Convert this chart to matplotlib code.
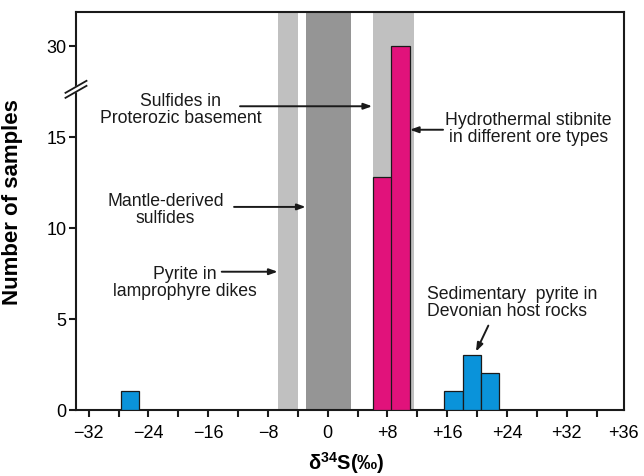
import numpy as np
import matplotlib
matplotlib.use('Agg')
import matplotlib.pyplot as plt

plt.rcParams['font.family'] = ['Liberation Sans', 'DejaVu Sans']
plt.rcParams['mathtext.fontset'] = 'custom'
plt.rcParams['mathtext.rm'] = 'Liberation Sans'
plt.rcParams['mathtext.bf'] = 'Liberation Sans:bold'

# histogram bins (left edge, count, group)
bin_left = [-27.7, 6.1, 8.5, 15.6, 18.1, 20.5]
bin_width = 2.45
counts = [1, 12.8, 30, 1, 3, 2]
bin_color = ['#0a93da', '#e1127b', '#e1127b', '#0a93da', '#0a93da', '#0a93da']

# reference ranges (shaded bands)
band_lo = [-6.65, -2.9, 6.1]
band_hi = [-3.95, 3.15, 11.5]
band_color = ['#c0c0c0', '#959595', '#c0c0c0']

# broken y axis: values between brk and brk+gap are cut out
brk = 17.6
gap = 10.0

def fwd(y):
    y = np.asarray(y, dtype=float)
    return np.where(y > brk + gap, y - gap, np.minimum(y, brk))

def inv(z):
    z = np.asarray(z, dtype=float)
    return np.where(z > brk, z + gap, z)

xmin, xmax = -33.7, 39.6
ytop = 31.85

fig = plt.figure(figsize=(6.44, 4.77), dpi=100)
ax = fig.add_axes([0.118, 0.139, 0.8502, 0.8338])
ax.set_yscale('function', functions=(fwd, inv))

for lo, hi, c in zip(band_lo, band_hi, band_color):
    ax.axvspan(lo, hi, color=c, lw=0, zorder=1)

ax.bar(bin_left, counts, width=bin_width, align='edge', color=bin_color,
       edgecolor='#1a1a1a', linewidth=0.9, zorder=3)

ax.set_xlim(xmin, xmax)
ax.set_ylim(0, ytop)

# x ticks every 4, labels every 8; the "+36" label sits at the right end
xt = list(range(-32, 37, 4))
xl = []
for v in xt:
    if v % 8 != 0:
        xl.append('')
    elif v < 0:
        xl.append('\u2212' + str(-v))
    elif v == 0:
        xl.append('0')
    else:
        xl.append('+' + str(v))
ax.set_xticks(xt + [xmax], xl + ['+36'])
ax.xaxis.get_major_ticks()[-1].tick1line.set_visible(False)

ax.set_yticks([0, 5, 10, 15, 30], ['0', '5', '10', '15', '30'])
ax.yaxis.set_minor_locator(plt.NullLocator())

ax.tick_params(axis='both', direction='out', length=5, width=1.5,
               labelsize=13, color='#1a1a1a')
ax.tick_params(axis='y', pad=2)
ax.tick_params(axis='x', pad=5)
for s in ax.spines.values():
    s.set_linewidth(1.5)
    s.set_color('#1a1a1a')

# break marks on the left spine
fa = brk / (ytop - gap)
dx, dy, sep = 0.0192, 0.0151, 0.0063
ax.fill([-dx, dx, dx, -dx],
        [fa - sep - dy, fa - sep + dy, fa + sep + dy, fa + sep - dy],
        color='white', transform=ax.transAxes, clip_on=False, zorder=10)
for s in (-sep, sep):
    ax.plot([-dx, dx], [fa + s - dy, fa + s + dy], color='#1a1a1a', lw=1.3,
            transform=ax.transAxes, clip_on=False, zorder=11)

ax.set_ylabel('Number of samples', fontsize=16, fontweight='bold')
ax.yaxis.set_label_coords(-0.096, 0.525)
ax.set_xlabel(r'δ$^{\mathbf{34}}$S(‰)', fontsize=14.5, fontweight='bold')
ax.xaxis.set_label_coords(0.493, -0.098)

# annotations
arw = dict(arrowstyle='-|>,head_length=0.5,head_width=0.18', color='#1a1a1a',
           lw=1.4, mutation_scale=10, shrinkA=0, shrinkB=0)
tk = dict(fontsize=12.7, linespacing=1.0, color='#1a1a1a', zorder=5)

ax.text(-19.7, 16.5, 'Sulfides in\nProterozic basement', ha='center', va='center', **tk)
ax.annotate('', xy=(5.95, 16.67), xytext=(-11.74, 16.67), arrowprops=arw)

ax.text(-21.7, 11.0, 'Mantle-derived\nsulfides', ha='center', va='center', **tk)
ax.annotate('', xy=(-2.95, 11.14), xytext=(-12.54, 11.14), arrowprops=arw)

ax.text(-19.1, 7.0, 'Pyrite in\nlamprophyre dikes', ha='center', va='center', **tk)
ax.annotate('', xy=(-6.7, 7.58), xytext=(-14.19, 7.58), arrowprops=arw)

ax.text(26.9, 15.45, 'Hydrothermal stibnite\nin different ore types', ha='center', va='center', **tk)
ax.annotate('', xy=(11.0, 15.38), xytext=(15.44, 15.38), arrowprops=arw)

ax.text(13.3, 5.9, 'Sedimentary  pyrite in\nDevonian host rocks', ha='left', va='center',
        multialignment='left', **tk)
ax.annotate('', xy=(19.85, 3.19), xytext=(21.5, 4.62), arrowprops=arw)

fig.savefig('out.png', dpi=100)
